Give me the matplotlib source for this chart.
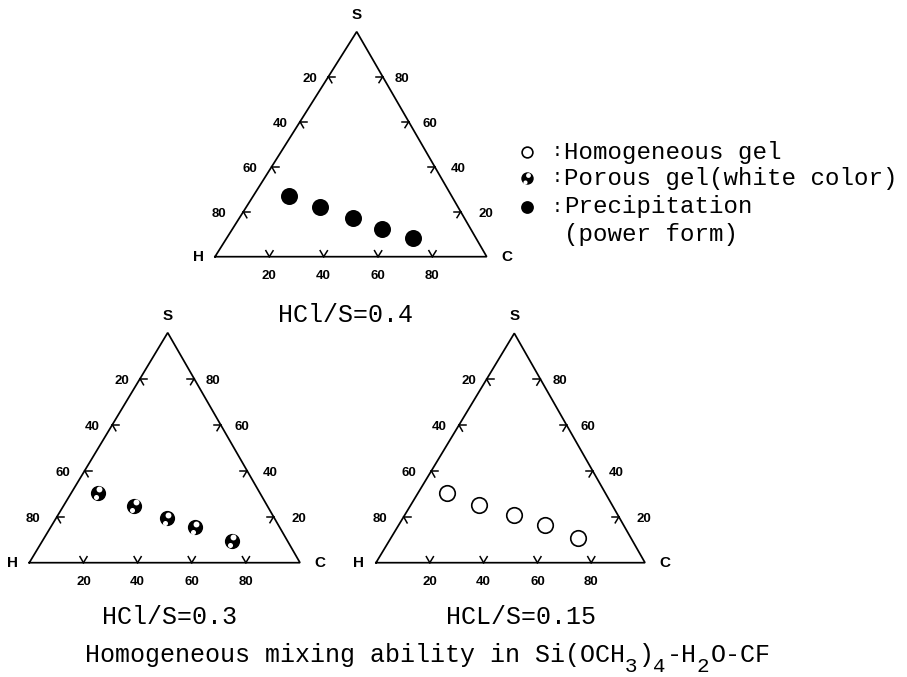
import numpy as np
import matplotlib
matplotlib.use("Agg")
import matplotlib.pyplot as plt

# composition in mol% : S = Si(OCH3)4, C = solvent, H = H2O
ticks = [20, 40, 60, 80]

s_04 = [27.0, 22.0, 17.1, 12.2, 8.2]
c_04 = [13.2, 27.2, 42.0, 55.0, 68.7]

s_03 = [30.4, 24.8, 19.3, 15.4, 9.4]
c_03 = [9.7, 26.1, 40.9, 53.3, 70.0]

s_015 = [30.5, 25.2, 20.8, 16.4, 10.9]
c_015 = [10.8, 25.5, 40.6, 54.4, 69.6]

captions = ["HCl/S=0.4", "HCl/S=0.3", "HCL/S=0.15"]
legend_labels = ["Homogeneous gel", "Porous gel(white color)", "Precipitation"]

# title pieces: (text, is_subscript)
title_parts = [("Homogeneous mixing ability in Si(OCH", False), ("3", True),
               (")", False), ("4", True), ("-H", False), ("2", True),
               ("O-CF", False)]

# triangle corners (H, C, S) in pixel coordinates of the page
tri_top = [(215.0, 256.7), (486.7, 256.7), (356.7, 31.7)]
tri_left = [(29.3, 562.7), (300.0, 562.7), (167.7, 332.7)]
tri_right = [(376.0, 562.7), (645.0, 562.7), (514.3, 333.3)]

fig = plt.figure(figsize=(9.07, 6.77), dpi=100)
ax = fig.add_axes([0, 0, 1, 1])
ax.set_xlim(0, 907)
ax.set_ylim(677, 0)
ax.axis('off')

mono = 'Liberation Mono'
sans = 'Liberation Sans'


def to_xy(tri, c, s):
    (hx, hy), (cx, cy), (sx, sy) = tri
    c = np.asarray(c) / 100.0
    s = np.asarray(s) / 100.0
    h = 1 - c - s
    return h * hx + c * cx + s * sx, h * hy + c * cy + s * sy


def unit(v):
    return v / np.hypot(*v)


def chevron(p, dirs, arm=7.0):
    for d in dirs:
        ax.plot([p[0], p[0] + arm * d[0]], [p[1], p[1] + arm * d[1]],
                color='black', lw=1.1)


def draw_triangle(tri):
    H, C, S = [np.array(p) for p in tri]
    ax.plot([H[0], C[0], S[0], H[0]], [H[1], C[1], S[1], H[1]],
            color='black', lw=1.25, solid_joinstyle='miter')
    tick_kw = dict(ha='center', va='center', fontsize=9.5,
                   fontweight='bold', family=sans)
    for t in ticks:
        f = t / 100.0
        # base H->C : C %
        p = H + f * (C - H)
        chevron(p, (unit(S - H), unit(S - C)))
        ax.text(p[0], p[1] + 19, str(t), **tick_kw)
        # left edge S->H : H %
        p = S + f * (H - S)
        chevron(p, (unit(C - H), unit(C - S)))
        ax.text(p[0] - (16 + 10 * f), p[1] + 2, str(t), **tick_kw)
        # right edge C->S : S %
        p = C + f * (S - C)
        chevron(p, (unit(H - C), unit(H - S)))
        ax.text(p[0] + (17 + 10 * (1 - f)), p[1] + 2, str(t), **tick_kw)

    lab_kw = dict(ha='center', va='center', fontsize=11, fontweight='bold',
                  family=sans)
    ax.text(S[0], S[1] - 17, 'S', **lab_kw)
    ax.text(H[0] - 17, H[1], 'H', **lab_kw)
    ax.text(C[0] + 20, C[1], 'C', **lab_kw)


def porous(x, y, size, k=1.0):
    x = np.atleast_1d(np.asarray(x, dtype=float))
    y = np.atleast_1d(np.asarray(y, dtype=float))
    ax.scatter(x, y, s=size, c='black', linewidths=0, zorder=3)
    ax.scatter(x + 1.5 * k, y - 3.6 * k, s=size * 0.15, c='white',
               linewidths=0, zorder=4)
    ax.scatter(x - 2.0 * k, y + 4.4 * k, s=size * 0.11, c='white',
               linewidths=0, zorder=4)


for tri in (tri_top, tri_left, tri_right):
    draw_triangle(tri)

# HCl/S = 0.4 : precipitation
x, y = to_xy(tri_top, c_04, s_04)
ax.scatter(x, y, s=150, c='black', linewidths=0, zorder=3)

# HCl/S = 0.3 : porous gel
x, y = to_xy(tri_left, c_03, s_03)
porous(x, y, 120)

# HCl/S = 0.15 : homogeneous gel
x, y = to_xy(tri_right, c_015, s_015)
ax.scatter(x, y, s=125, facecolors='white', edgecolors='black',
           linewidths=1.2, zorder=3)

# captions under each diagram
cap_kw = dict(ha='center', va='center', fontsize=18, family=mono)
ax.text(346, 315, captions[0], **cap_kw)
ax.text(170, 617, captions[1], **cap_kw)
ax.text(521, 617, captions[2], **cap_kw)

# legend
ly = [152, 178, 207]
ax.scatter([527], [ly[0]], s=60, facecolors='white', edgecolors='black',
           linewidths=1.2, zorder=3)
porous([527], [ly[1]], 80, k=0.8)
ax.scatter([527], [ly[2]], s=85, c='black', linewidths=0, zorder=3)
for yy, lab in zip(ly, legend_labels):
    ax.text(552, yy, ':', ha='left', va='center', fontsize=13, family=mono)
    ax.text(564, yy, lab, ha='left', va='center', fontsize=17.4, family=mono)
ax.text(564, 234, '(power form)', ha='left', va='center', fontsize=17.4,
        family=mono)

# title, typed piece by piece so the subscripts drop like the typewriter
cursor = 85.0
for txt, sub in title_parts:
    fs = 15 if sub else 18
    ax.text(cursor, 667 if sub else 655, txt, ha='left', va='center',
            fontsize=fs, family=mono)
    cursor += len(txt) * 0.6 * fs * 100 / 72 + (1 if sub else 0)

fig.savefig('out.png', dpi=100)
